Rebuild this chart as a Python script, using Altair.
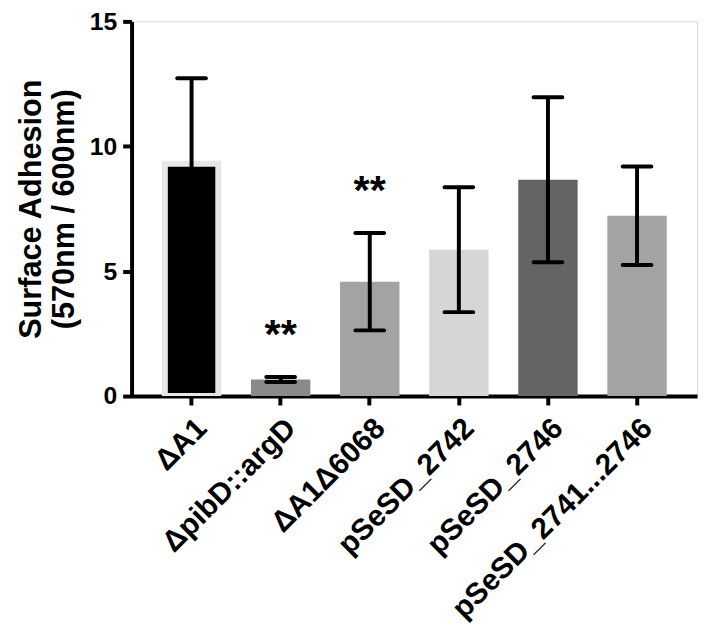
import altair as alt
import pandas as pd

# ---- data ----
strains = ["ΔA1", "ΔpibD::argD", "ΔA1Δ6068", "pSeSD_2742", "pSeSD_2746", "pSeSD_2741...2746"]
means = [9.3, 0.66, 4.58, 5.86, 8.66, 7.22]
sds = [3.42, 0.10, 1.95, 2.50, 3.30, 1.97]
stars = ["", "**", "**", "", "", ""]
y_ticks = [0, 5, 10, 15]

bar_colors = ["#000000", "#8a8a8a", "#a3a3a3", "#d6d6d6", "#646464", "#a3a3a3"]

df = pd.DataFrame({"strain": strains, "mean": means, "sd": sds, "star": stars})
df["hi"] = df["mean"] + df["sd"]
df["lo"] = df["mean"] - df["sd"]

FONT = "Liberation Sans"

x_enc = alt.X(
    "strain:N",
    sort=strains,
    scale=alt.Scale(paddingInner=1 / 3, paddingOuter=0.34),
    axis=alt.Axis(
        title=None,
        labelAngle=-45,
        labelFont=FONT,
        labelFontSize=30,
        labelFontWeight="bold",
        labelColor="black",
        labelPadding=8,
        labelLimit=600,
        tickSize=9,
        tickWidth=4,
        tickColor="black",
        domainWidth=4,
        domainColor="black",
    ),
)

y_scale = alt.Scale(domain=[0, 15], nice=False)
y_axis = alt.Axis(
    values=y_ticks,
    title=["Surface Adhesion", "(570nm / 600nm)"],
    titleFont=FONT,
    titleFontSize=31,
    titleFontWeight="bold",
    titleColor="black",
    titlePadding=9,
    titleLineHeight=33,
    labelFont=FONT,
    labelFontSize=25,
    labelFontWeight="bold",
    labelColor="black",
    labelPadding=6,
    tickSize=9,
    tickWidth=4,
    tickColor="black",
    domainWidth=4,
    domainColor="black",
    grid=False,
)

base = alt.Chart(df)

bars = base.transform_filter(alt.datum.strain != strains[0]).mark_bar().encode(
    x=x_enc,
    y=alt.Y("mean:Q", scale=y_scale, axis=y_axis),
    color=alt.Color("strain:N", scale=alt.Scale(domain=strains, range=bar_colors), legend=None),
)

first_bar = base.transform_filter(alt.datum.strain == strains[0]).mark_bar(
    width=54, fill="#000000", stroke="#e6e6e6", strokeWidth=6, clip=True
).encode(
    x=alt.X("strain:N", sort=strains),
    y=alt.Y("mean:Q"),
)

err = base.mark_rule(color="black", strokeWidth=4).encode(
    x=alt.X("strain:N", sort=strains),
    y="lo:Q",
    y2="hi:Q",
)

cap_hi = base.mark_tick(orient="horizontal", size=33, thickness=4, color="black",
                        cornerRadius=2, opacity=1).encode(
    x=alt.X("strain:N", sort=strains),
    y="hi:Q",
)
cap_lo = base.mark_tick(orient="horizontal", size=33, thickness=4, color="black",
                        cornerRadius=2, opacity=1).encode(
    x=alt.X("strain:N", sort=strains),
    y="lo:Q",
)

star_text = base.transform_filter(alt.datum.star != "").mark_text(
    font=FONT, fontSize=42, fontWeight="bold", color="black",
    baseline="alphabetic", align="center", dy=-29,
).encode(
    x=alt.X("strain:N", sort=strains),
    y="hi:Q",
    text="star:N",
)

chart = alt.layer(bars, first_bar, err, cap_hi, cap_lo, star_text).properties(
    width=572,
    height=379,
    autosize=alt.AutoSizeParams(type="none"),
    padding={"left": 125, "top": 10, "right": 4, "bottom": 226},
).configure_view(stroke=None).configure(background="white")

chart.save("out.html", embed_options={"renderer": "svg", "actions": False})
